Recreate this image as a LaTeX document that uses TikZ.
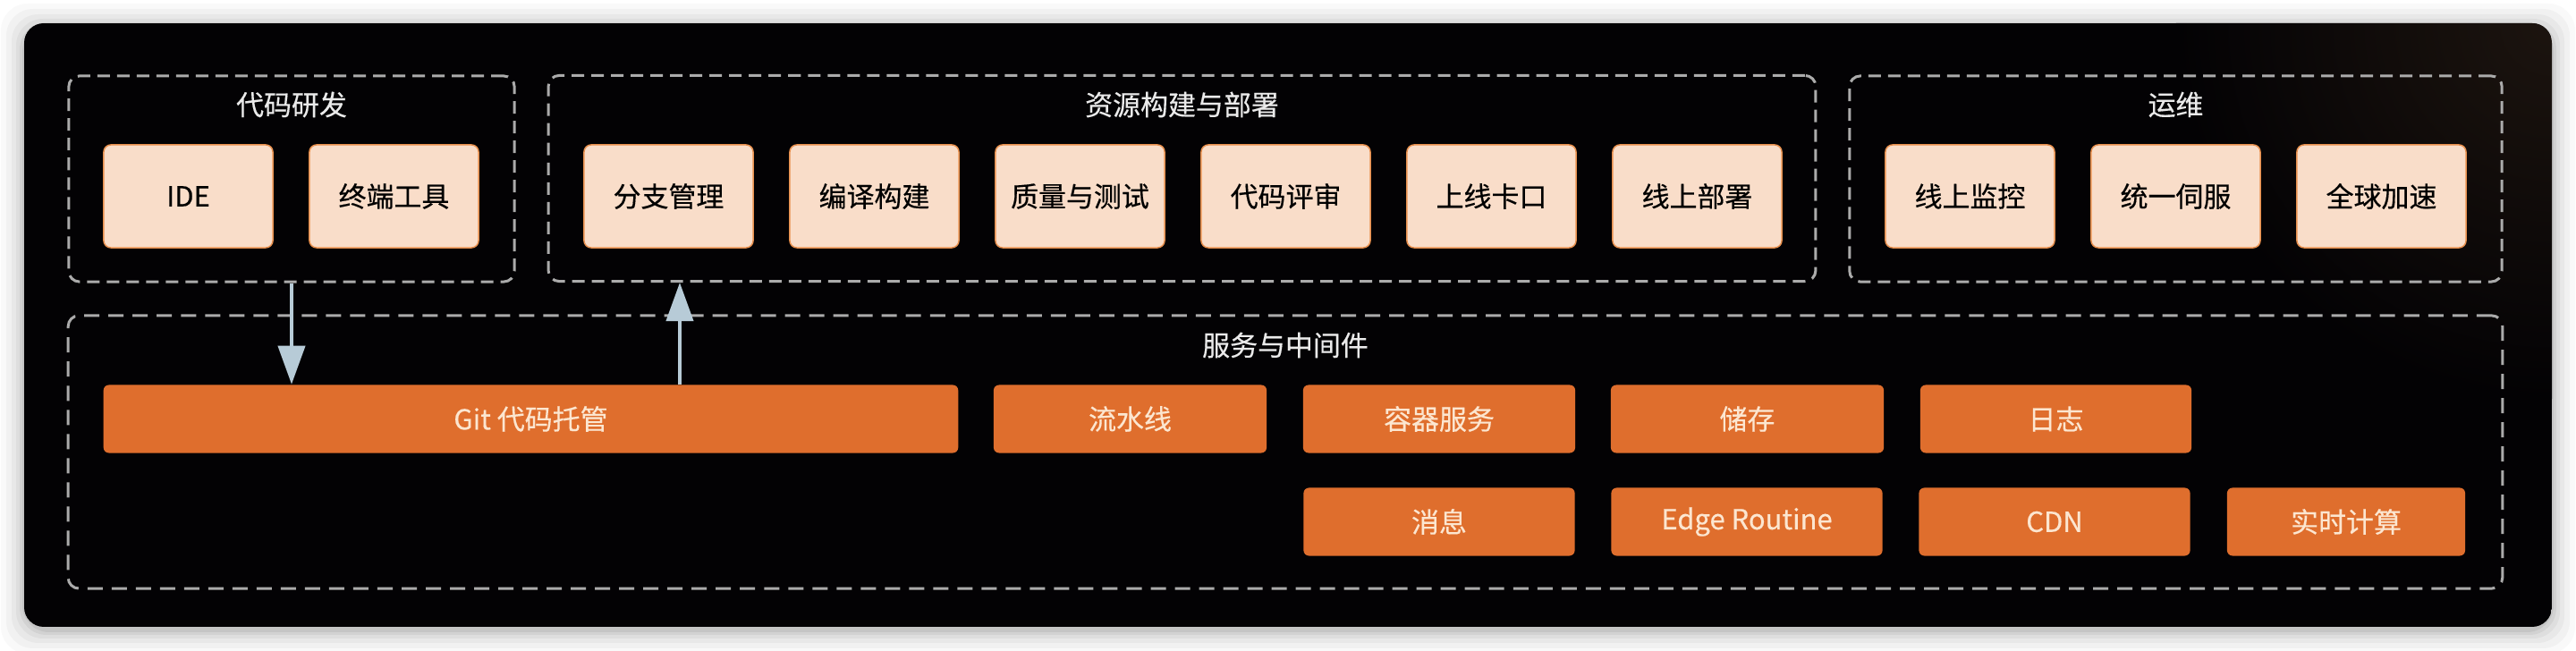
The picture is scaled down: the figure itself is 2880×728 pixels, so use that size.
\documentclass[tikz,border=0pt]{standalone}
\usepackage{fontspec}
\newfontfamily\cjk{Noto Sans CJK SC}[FakeBold=0.4]
\usetikzlibrary{arrows.meta}
\definecolor{peach}{HTML}{F9DDC9}
\definecolor{peachedge}{HTML}{E8904E}
\definecolor{orangebox}{HTML}{DF6E2D}
\definecolor{cream}{HTML}{FCE6D0}
\definecolor{dashgray}{HTML}{ABABAB}
\definecolor{titlegray}{HTML}{EAEAEA}
\definecolor{arrowblue}{HTML}{B7CBD7}
\definecolor{cardbg}{HTML}{030204}
\definecolor{cardbrown}{HTML}{1C140F}
\newcommand\lblfont{\cjk\fontsize{8.8pt}{10pt}\selectfont}
\begin{document}
\begin{tikzpicture}[x=0.01cm,y=-0.01cm,
  grp/.style={draw=dashgray, line width=0.03cm, dash pattern=on 0.14cm off 0.08cm, rounded corners=0.12cm, inner sep=0pt},
  grptitle/.style={text=titlegray, font=\lblfont, inner sep=0pt},
  lightbox/.style={fill=peach, draw=peachedge, line width=0.015cm, rounded corners=0.08cm, text=black, font=\lblfont, minimum width=1.89cm, minimum height=1.15cm, inner sep=0pt},
  solidbox/.style={fill=orangebox, draw=none, rounded corners=0.06cm, text=cream, font=\lblfont, minimum height=0.76cm, inner sep=0pt},
  arr/.style={draw=arrowblue, line width=0.04cm, -{Triangle[length=0.43cm, width=0.30cm]}}]
\useasboundingbox (0,0) rectangle (2880,728);
\fill[white] (0,0) rectangle (2880,728);
% shadow
\foreach \i/\o in {26/0.025,20/0.03,14/0.035,9/0.04,5/0.05,2/0.06}
  \fill[black, opacity=\o, rounded corners=0.3cm] (27-\i,26-\i+4) rectangle (2853+\i,701+\i+4);
% card
\begin{scope}
\path[clip, rounded corners=0.22cm] (27,26) rectangle (2853,701);
\fill[cardbg] (27,26) rectangle (2853,701);
\shade[inner color=cardbrown, outer color=cardbg] (2853,26) circle[radius=4.2cm];
\end{scope}

% groups
\node[grp, minimum width=4.98cm, minimum height=2.30cm] (gdev) at (326,200) {};
\node[grptitle] (tdev) at (326,117) {代码研发};
\node[grp, minimum width=14.16cm, minimum height=2.30cm] (gres) at (1321.5,199.5) {};
\node[grptitle] (tres) at (1321.5,117) {资源构建与部署};
\node[grp, minimum width=7.29cm, minimum height=2.30cm] (gops) at (2432.5,200) {};
\node[grptitle] (tops) at (2432.5,117) {运维};
\node[grp, dash pattern=on 0.17cm off 0.10cm, minimum width=27.20cm, minimum height=3.05cm] (gsvc) at (1437,505.5) {};
\node[grptitle] (tsvc) at (1437,386) {服务与中间件};

% top boxes
\node[lightbox] (ide) at (210.5,219.5) {IDE};
\node[lightbox] (term) at (440.5,219.5) {终端工具};
\node[lightbox] (br) at (747.5,219.5) {分支管理};
\node[lightbox] (build) at (977.5,219.5) {编译构建};
\node[lightbox] (qa) at (1207.5,219.5) {质量与测试};
\node[lightbox] (cr) at (1437.5,219.5) {代码评审};
\node[lightbox] (gate) at (1667.5,219.5) {上线卡口};
\node[lightbox] (dep) at (1897.5,219.5) {线上部署};
\node[lightbox] (mon) at (2202.5,219.5) {线上监控};
\node[lightbox] (srv) at (2432.5,219.5) {统一伺服};
\node[lightbox] (acc) at (2662.5,219.5) {全球加速};

% service boxes
\node[solidbox, minimum width=9.55cm] (git) at (593.5,468.5) {Git 代码托管};
\node[solidbox, minimum width=3.05cm] (pipe) at (1263.5,468.5) {流水线};
\node[solidbox, minimum width=3.04cm] (ctr) at (1609,468.5) {容器服务};
\node[solidbox, minimum width=3.05cm] (sto) at (1953.5,468.5) {储存};
\node[solidbox, minimum width=3.03cm] (log) at (2298.5,468.5) {日志};
\node[solidbox, minimum width=3.03cm] (msg) at (1609,583.5) {消息};
\node[solidbox, minimum width=3.03cm] (edge) at (1953,583.5) {Edge Routine};
\node[solidbox, minimum width=3.03cm] (cdn) at (2297,583.5) {CDN};
\node[solidbox, minimum width=2.66cm] (rt) at (2623,583.5) {实时计算};

% arrows
\coordinate (upx) at (760,0);
\draw[arr] (gdev.south) -- (gdev.south |- git.north);
\draw[arr] (git.north -| upx) -- (gres.south -| upx);
\end{tikzpicture}
\end{document}
